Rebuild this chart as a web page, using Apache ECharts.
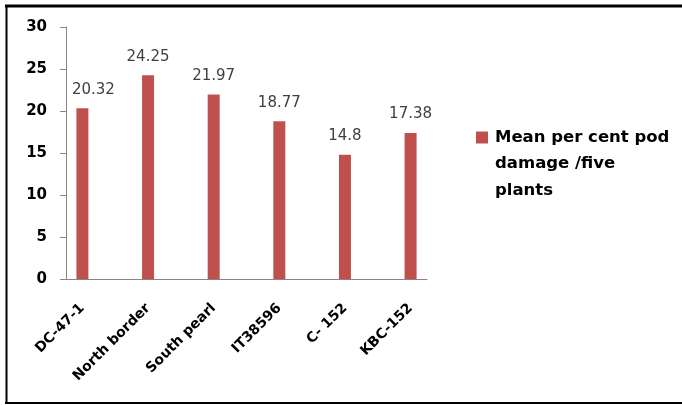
<!DOCTYPE html>
<html>
<head>
<meta charset="utf-8">
<script src="https://cdn.jsdelivr.net/npm/echarts@6/dist/echarts.min.js"></script>
<style>html,body{margin:0;padding:0;background:#fff}#c{width:682px;height:405px}</style>
</head>
<body>
<div id="c"></div>
<script>
var varieties = ['DC-47-1', 'North border', 'South pearl', 'IT38596', 'C- 152', 'KBC-152'];
var meanDamage = [20.32, 24.25, 21.97, 18.77, 14.8, 17.38];
var seriesName = 'Mean per cent pod damage /five plants';
var legendLines = ['Mean per cent pod', 'damage /five', 'plants'];
var yTicks = { min: 0, max: 30, interval: 5 };

// interleave blank categories between varieties (as in the original sheet)
var cats = [], vals = [];
varieties.forEach(function (v, i) {
  cats.push(v);
  vals.push(i === 0 ? { value: meanDamage[i], label: { offset: [11, 0] } } : meanDamage[i]);
  if (i < varieties.length - 1) { cats.push(''); vals.push(null); }
});

var legendFont = { fontFamily: 'DejaVu Sans', fontWeight: 'bold', fontSize: 16.5, color: '#000', padding: [0, 0, 0, 2] };

var chart = echarts.init(document.getElementById('c'));
chart.setOption({
  animation: false,
  grid: { left: 66, right: 255, top: 27, bottom: 126, containLabel: false },
  legend: {
    data: [seriesName],
    left: 471, top: 124,
    itemWidth: 12, itemHeight: 12, icon: 'rect', itemGap: 7,
    formatter: function () { return legendLines[0]; },
    textStyle: legendFont
  },
  xAxis: {
    type: 'category', data: cats,
    axisLine: { lineStyle: { color: '#868686', width: 1 } },
    axisTick: { length: 6, interval: 0, lineStyle: { color: '#868686' } },
    axisLabel: { interval: 0, rotate: 45, margin: 27, fontFamily: 'DejaVu Sans', fontWeight: 'bold', fontSize: 14, color: '#000' }
  },
  yAxis: {
    type: 'value', min: yTicks.min, max: yTicks.max, interval: yTicks.interval,
    splitLine: { show: false },
    axisLine: { show: true, lineStyle: { color: '#868686', width: 1 } },
    axisTick: { show: true, length: 6, lineStyle: { color: '#868686' } },
    axisLabel: { margin: 19, fontFamily: 'DejaVu Sans', fontWeight: 'bold', fontSize: 15, color: '#000' }
  },
  series: [{
    name: seriesName, type: 'bar', data: vals, barWidth: 12,
    itemStyle: { color: '#C0504D' },
    label: { show: true, position: 'top', distance: 11, fontFamily: 'DejaVu Sans', fontSize: 15, color: '#404040' }
  }],
  graphic: [
    { type: 'text', left: 495, top: 150, style: { text: legendLines.slice(1).join('\n'), lineHeight: 27, font: 'bold 16.5px "DejaVu Sans"', fill: '#000' } },
    { type: 'line', shape: { x1: 5, y1: 6, x2: 682, y2: 6 }, style: { stroke: '#000', lineWidth: 3 } },
    { type: 'line', shape: { x1: 6.5, y1: 5, x2: 6.5, y2: 404 }, style: { stroke: '#000', lineWidth: 2 } },
    { type: 'line', shape: { x1: 5, y1: 403, x2: 682, y2: 403 }, style: { stroke: '#000', lineWidth: 2 } }
  ]
});
</script>
</body>
</html>
